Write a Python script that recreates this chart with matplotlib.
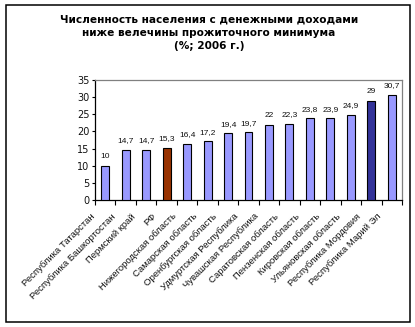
import matplotlib
matplotlib.use("Agg")
import matplotlib.pyplot as plt
import matplotlib.transforms as mtransforms
from matplotlib.patches import Rectangle

regions = [
    "Республика Татарстан",
    "Республика Башкортостан",
    "Пермский край",
    "РФ",
    "Нижегородская область",
    "Самарская область",
    "Оренбургская область",
    "Удмуртская Республика",
    "Чувашская Республика",
    "Саратовская область",
    "Пензенская область",
    "Кировская область",
    "Ульяновская область",
    "Республика Мордовия",
    "Республика Марий Эл",
]
values = [10, 14.7, 14.7, 15.3, 16.4, 17.2, 19.4, 19.7, 22, 22.3, 23.8, 23.9, 24.9, 29, 30.7]
value_labels = ["10", "14,7", "14,7", "15,3", "16,4", "17,2", "19,4", "19,7",
                "22", "22,3", "23,8", "23,9", "24,9", "29", "30,7"]
title_lines = [
    "Численность населения с денежными доходами",
    "ниже велечины прожиточного минимума",
    "(%; 2006 г.)",
]
y_ticks = [0, 5, 10, 15, 20, 25, 30, 35]

base_color = "#9999FF"
highlight = {"РФ": "#993300", "Республика Мордовия": "#333399"}
colors = [highlight.get(r, base_color) for r in regions]

W, H, DPI = 415, 327, 100
fig = plt.figure(figsize=(W / DPI, H / DPI), dpi=DPI)
fig.patch.set_facecolor("white")

# outer frame
fig.patches.append(Rectangle((6 / W, 1 - 322 / H), 404 / W, 317 / H,
                             transform=fig.transFigure, fill=False,
                             edgecolor="black", linewidth=1.1))

ax = fig.add_axes([95 / W, 1 - 200 / H, 307 / W, 120 / H])
x = list(range(len(regions)))
ax.bar(x, values, width=0.39, color=colors, edgecolor="black", linewidth=0.8, zorder=3)

ax.set_xlim(-0.5, len(regions) - 0.5)
ax.set_ylim(0, 35)
ax.set_yticks(y_ticks)
ax.tick_params(axis="y", direction="out", length=2.5, width=0.8, labelsize=7, pad=1.5,
               labelcolor="#111111")

# category ticks sit between the bars
ax.set_xticks([i - 0.5 for i in range(len(regions) + 1)])
ax.set_xticklabels([])
ax.tick_params(axis="x", direction="out", length=3.5, width=0.8)

for side in ("top", "right"):
    ax.spines[side].set_color("#808080")
    ax.spines[side].set_linewidth(0.9)
for side in ("left", "bottom"):
    ax.spines[side].set_color("black")
    ax.spines[side].set_linewidth(0.9)

# value labels above the bars
for xi, v, lab in zip(x, values, value_labels):
    ax.annotate(lab, (xi, v), xytext=(0, 5.3), textcoords="offset points",
                ha="center", va="baseline", fontsize=6.0,
                family="Liberation Sans", color="#111111")

# rotated category labels
offset = mtransforms.ScaledTranslation(-12 / DPI, -15 / DPI, fig.dpi_scale_trans)
trans = mtransforms.blended_transform_factory(ax.transData, ax.transAxes) + offset
for xi, name in zip(x, regions):
    ax.text(xi, 0, name, transform=trans, rotation=45, rotation_mode="anchor",
            ha="right", va="center", fontsize=6.8, family="Liberation Sans",
            color="#111111")

# title
for i, line in enumerate(title_lines):
    fig.text(209 / W, 1 - (19 + 13.5 * i) / H, line, ha="center", va="center",
             fontsize=7.6, fontweight="bold", family="DejaVu Sans", color="black")

fig.savefig("out.png", dpi=DPI)
